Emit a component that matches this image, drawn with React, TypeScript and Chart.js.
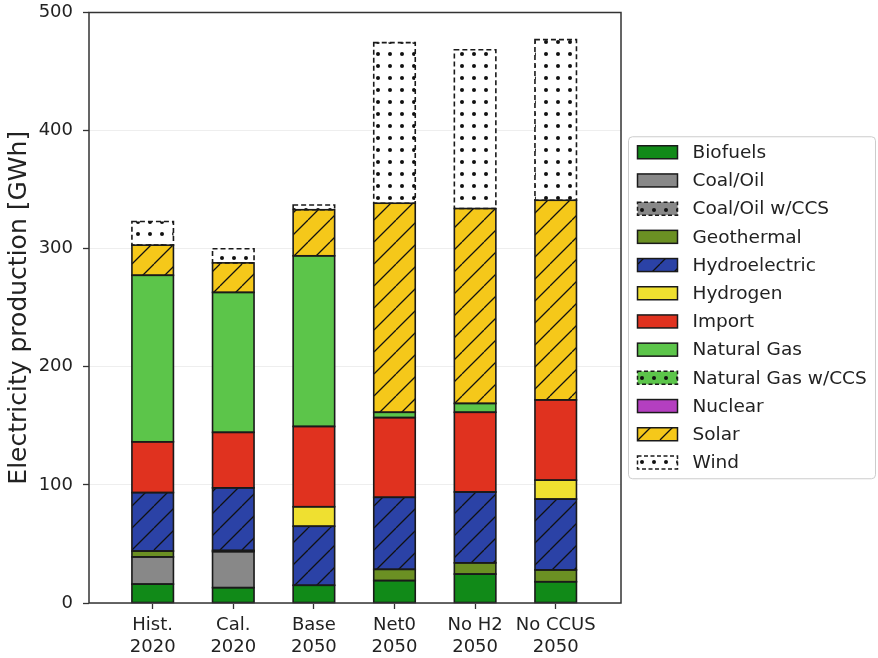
import React, { useEffect, useRef } from 'react';
import { Chart, registerables } from 'chart.js';

Chart.register(...registerables);

// ---- Data ----
const categories: string[][] = [
  ['Hist.', '2020'],
  ['Cal.', '2020'],
  ['Base', '2050'],
  ['Net0', '2050'],
  ['No H2', '2050'],
  ['No CCUS', '2050'],
];

const biofuels = [16, 13, 15, 19, 24.5, 18];
const coalOil = [23, 30.5, 0, 0, 0, 0];
const coalOilCCS = [0, 0, 0, 0, 0, 0];
const geothermal = [5, 1, 0, 9.5, 9.5, 10];
const hydroelectric = [49.5, 53, 50, 61, 60, 60];
const hydrogen = [0, 0, 16.5, 0, 0, 16];
const importPower = [43, 47, 68, 67.5, 67.5, 68];
const naturalGas = [141, 118.5, 144.5, 4.5, 7.5, 0];
const naturalGasCCS = [0, 0, 0, 0, 0, 0];
const nuclear = [0, 0, 0, 0, 0, 0];
const solar = [25.5, 25, 39, 177, 165, 169];
const wind = [20, 12, 4, 136, 134.5, 136];

const seriesNames = [
  'Biofuels', 'Coal/Oil', 'Coal/Oil w/CCS', 'Geothermal', 'Hydroelectric', 'Hydrogen',
  'Import', 'Natural Gas', 'Natural Gas w/CCS', 'Nuclear', 'Solar', 'Wind',
];
const seriesValues = [
  biofuels, coalOil, coalOilCCS, geothermal, hydroelectric, hydrogen,
  importPower, naturalGas, naturalGasCCS, nuclear, solar, wind,
];

const yTicks = [0, 100, 200, 300, 400, 500];

// ---- Styles ----
const seriesColors = [
  '#118a18', '#888888', '#888888', '#6b9023', '#2b42a6', '#efe030',
  '#e0321f', '#5cc54a', '#5cc54a', '#b43fc0', '#f5c81a', '#ffffff',
];
const seriesHatch = ['', '', 'dots', '', 'diag', '', '', '', 'dots', '', 'diag', 'dots'];
const seriesDashed = [false, false, true, false, false, false, false, false, true, false, false, true];

const FONT = "'DejaVu Sans', sans-serif";
const EDGE = '#1a1a1a';

function makeFill(ctx: CanvasRenderingContext2D, color: string, hatch: string): any {
  if (!hatch) return color;
  const size = hatch === 'diag' ? 22 : 12;
  const c = document.createElement('canvas');
  c.width = size;
  c.height = size;
  const g = c.getContext('2d') as CanvasRenderingContext2D;
  g.fillStyle = color;
  g.fillRect(0, 0, size, size);
  g.strokeStyle = '#111';
  g.fillStyle = '#111';
  if (hatch === 'diag') {
    g.lineWidth = 1.3;
    g.beginPath();
    for (const o of [-size, 0, size]) {
      g.moveTo(o, size);
      g.lineTo(o + size, 0);
    }
    g.stroke();
  } else {
    g.beginPath();
    g.arc(size / 2, size / 2, 2, 0, Math.PI * 2);
    g.fill();
  }
  return ctx.createPattern(c, 'repeat');
}

export default function App() {
  const canvasRef = useRef<HTMLCanvasElement | null>(null);

  useEffect(() => {
    document.body.style.margin = '0';
    const canvas = canvasRef.current;
    if (!canvas) return;
    const ctx = canvas.getContext('2d') as CanvasRenderingContext2D;
    const fills = seriesColors.map((c, i) => makeFill(ctx, c, seriesHatch[i]));

    const edgePlugin = {
      id: 'edges',
      afterDatasetsDraw(chart: any) {
        const c = chart.ctx;
        c.save();
        chart.data.datasets.forEach((ds: any, i: number) => {
          const meta = chart.getDatasetMeta(i);
          meta.data.forEach((el: any, j: number) => {
            if (!seriesValues[i][j]) return;
            const p = el.getProps(['x', 'y', 'base', 'width'], true);
            const left = p.x - p.width / 2;
            const top = Math.min(p.y, p.base);
            const h = Math.abs(p.base - p.y);
            c.lineWidth = 1.6;
            c.strokeStyle = EDGE;
            c.setLineDash(seriesDashed[i] ? [5, 3] : []);
            c.strokeRect(left, top, p.width, h);
          });
        });
        c.restore();
      },
    };

    const framePlugin = {
      id: 'frameLegend',
      afterDraw(chart: any) {
        const c = chart.ctx;
        const a = chart.chartArea;
        c.save();
        c.setLineDash([]);
        c.strokeStyle = '#333333';
        c.lineWidth = 1.5;
        c.strokeRect(a.left, a.top, a.right - a.left, a.bottom - a.top);

        // legend
        const lx = a.right + 7.5;
        const lw = 247;
        const lh = 342;
        const cy = (a.top + a.bottom) / 2;
        const ly = cy - lh / 2;
        const r = 4;
        c.beginPath();
        c.moveTo(lx + r, ly);
        c.lineTo(lx + lw - r, ly);
        c.arcTo(lx + lw, ly, lx + lw, ly + r, r);
        c.lineTo(lx + lw, ly + lh - r);
        c.arcTo(lx + lw, ly + lh, lx + lw - r, ly + lh, r);
        c.lineTo(lx + r, ly + lh);
        c.arcTo(lx, ly + lh, lx, ly + lh - r, r);
        c.lineTo(lx, ly + r);
        c.arcTo(lx, ly, lx + r, ly, r);
        c.closePath();
        c.fillStyle = 'rgba(255,255,255,0.85)';
        c.fill();
        c.strokeStyle = '#cccccc';
        c.lineWidth = 1;
        c.stroke();

        const step = 28.2;
        const y0 = ly + 15.5;
        seriesNames.forEach((name, i) => {
          const yc = y0 + i * step;
          const px = lx + 9;
          const pw = 40;
          const ph = 13;
          c.fillStyle = fills[i];
          c.fillRect(px, yc - ph / 2, pw, ph);
          c.lineWidth = 1.5;
          c.strokeStyle = EDGE;
          c.setLineDash(seriesDashed[i] ? [4, 2.5] : []);
          c.strokeRect(px, yc - ph / 2, pw, ph);
          c.setLineDash([]);
          c.fillStyle = '#222222';
          c.font = `18.5px ${FONT}`;
          c.textAlign = 'left';
          c.textBaseline = 'middle';
          c.fillText(name, lx + 64, yc + 1);
        });
        c.restore();
      },
    };

    const chart = new Chart(canvas, {
      type: 'bar',
      data: {
        datasets: seriesNames.map((name, i) => ({
          label: name,
          data: seriesValues[i].map((v, j) => ({ x: j, y: v })),
          backgroundColor: fills[i],
          borderWidth: 0,
          barPercentage: 0.515,
          categoryPercentage: 1,
          stack: 'all',
        })),
      },
      options: {
        animation: false,
        responsive: false,
        devicePixelRatio: 1,
        layout: { padding: { top: 12.5, right: 257, left: 0, bottom: 0 } },
        plugins: {
          legend: { display: false },
          tooltip: { enabled: false },
          title: { display: false },
        },
        scales: {
          x: {
            type: 'linear',
            min: -0.79,
            max: 5.81,
            offset: false,
            stacked: true,
            afterBuildTicks: (s: any) => {
              s.ticks = categories.map((_, i) => ({ value: i }));
            },
            afterFit: (s: any) => {
              s.height = 55;
              s.paddingLeft = 0;
              s.paddingRight = 0;
            },
            ticks: {
              autoSkip: false,
              maxRotation: 0,
              padding: 6,
              color: '#222222',
              font: { family: FONT, size: 18 },
              callback: (v: any) => categories[v as number],
            },
            grid: {
              offset: false,
              drawOnChartArea: false,
              tickLength: 6,
              tickColor: '#333333',
              tickWidth: 1.3,
            },
            border: { display: false },
          },
          y: {
            min: 0,
            max: 500,
            stacked: true,
            afterBuildTicks: (s: any) => {
              s.ticks = yTicks.map((v) => ({ value: v }));
            },
            afterFit: (s: any) => {
              s.width = 89;
              s.paddingTop = 0;
              s.paddingBottom = 0;
            },
            ticks: {
              padding: 10,
              color: '#222222',
              font: { family: FONT, size: 18 },
            },
            grid: {
              color: '#eeeeee',
              lineWidth: 1,
              tickLength: 6,
              tickColor: '#333333',
              tickWidth: 1.3,
            },
            border: { display: false },
            title: {
              display: true,
              text: 'Electricity production [GWh]',
              color: '#222222',
              font: { family: FONT, size: 25 },
              padding: { top: 4, bottom: 0 },
            },
          },
        },
      },
      plugins: [edgePlugin, framePlugin],
    } as any);

    return () => chart.destroy();
  }, []);

  return (
    <div style={{ position: 'absolute', left: 0, top: 0, width: 878, height: 658 }}>
      <canvas ref={canvasRef} width={878} height={658} style={{ width: 878, height: 658, display: 'block' }} />
    </div>
  );
}
